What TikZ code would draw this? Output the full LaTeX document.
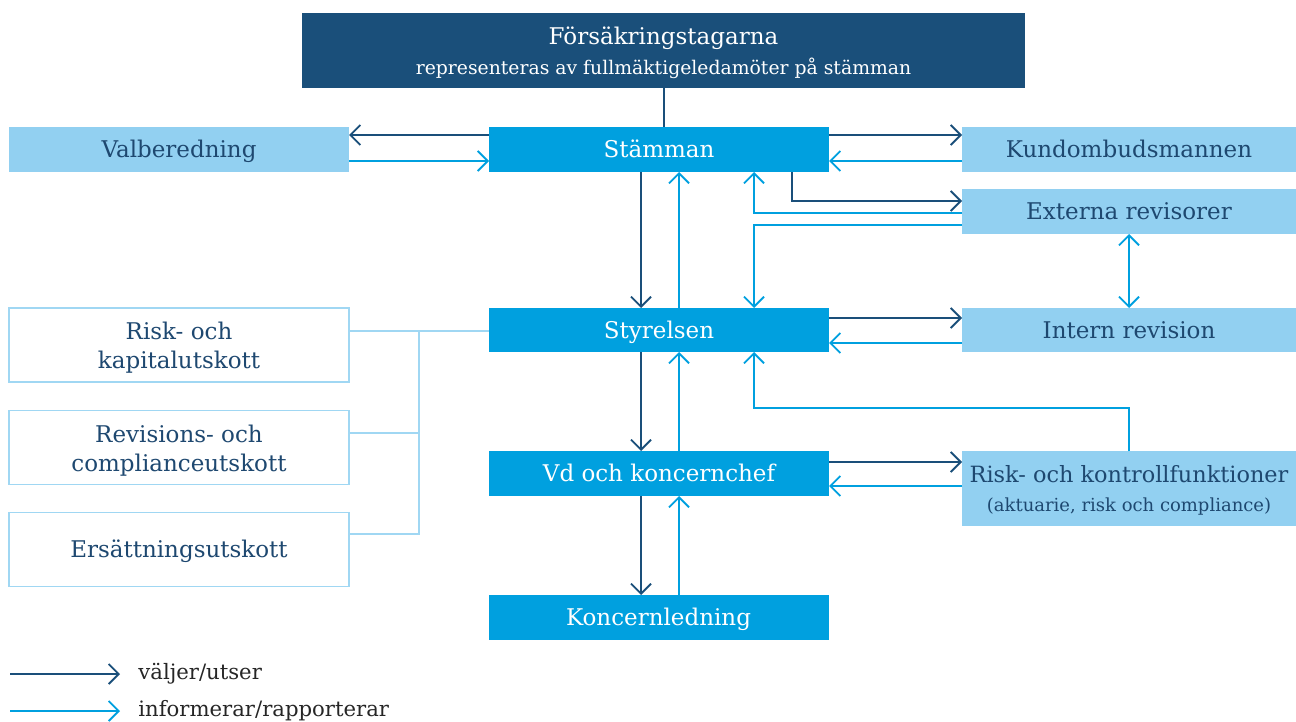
\documentclass[tikz,border=0pt]{standalone}
\usepackage{fontspec}
\setmainfont{DejaVu Serif}
\usetikzlibrary{arrows.meta}
\definecolor{navy}{RGB}{26,79,122}
\definecolor{mid}{RGB}{0,160,223}
\definecolor{pale}{RGB}{146,208,241}
\definecolor{paleline}{RGB}{160,215,243}
\definecolor{txt}{RGB}{30,72,112}
\tikzset{
  >={Straight Barb[length=5pt,width=10pt,line width=0.9pt]},
  base/.style={rectangle, inner sep=0pt, outer sep=0pt, align=center, font=\fontsize{11.5}{14.5}\selectfont},
  one/.style={text height=8.4pt, text depth=0pt},
  topbox/.style={base, fill=navy, text=white, minimum width=361.5pt, minimum height=37.5pt},
  midbox/.style={base, one, fill=mid, text=white, minimum width=170pt, minimum height=22.5pt},
  palebox/.style={base, one, fill=pale, text=txt, minimum width=167pt, minimum height=22.5pt},
  leftbox/.style={base, one, fill=pale, text=txt, minimum width=170pt, minimum height=22.5pt},
  combox/.style={base, draw=paleline, line width=0.8pt, fill=white, text=txt, minimum width=170pt, minimum height=37pt},
  dk/.style={navy, line width=0.9pt, ->},
  lt/.style={mid, line width=0.9pt, ->},
  ltboth/.style={mid, line width=0.9pt, <->},
  tree/.style={paleline, line width=1.2pt},
}
\begin{document}
\begin{tikzpicture}[x=0.5pt,y=-0.5pt]
\useasboundingbox (0,0) rectangle (1296,722);
% boxes
\node[topbox] (top) at (663.5,50.5) {\rule{0pt}{11pt}\fontsize{11.5}{14}\selectfont Försäkringstagarna\\[0.5pt]\fontsize{9.4}{11}\selectfont representeras av fullmäktigeledamöter på stämman};
\node[midbox] (stam) at (659,149.5) {Stämman};
\node[leftbox] (valb) at (179,149.5) {Valberedning};
\node[palebox] (kund) at (1129,149.5) {Kundombudsmannen};
\node[palebox] (ext) at (1129,211.5) {Externa revisorer};
\node[midbox, minimum height=22pt] (styr) at (659,330) {Styrelsen};
\node[palebox, minimum height=22pt] (intern) at (1129,330) {Intern revision};
\node[midbox] (vd) at (659,473.5) {Vd och koncernchef};
\node[base, fill=pale, text=txt, minimum width=167pt, minimum height=37.5pt] (risk) at (1129,488.5) {{\rule{0pt}{10.5pt}\fontsize{11.2}{14}\selectfont Risk- och kontrollfunktioner}\\{\fontsize{9}{11}\selectfont (aktuarie, risk och compliance)}};
\node[midbox] (konc) at (658.5,617.5) {Koncernledning};
\node[combox] (rk) at (179,345) {\rule{0pt}{11.4pt}Risk- och\\kapitalutskott};
\node[combox] (rc) at (179,447.5) {\rule{0pt}{11.4pt}Revisions- och\\complianceutskott};
\node[combox, one] (ers) at (179,549.5) {Ersättningsutskott};
% tree of committees
\coordinate (j1) at (419,331);
\coordinate (j3) at (419,534);
\draw[tree] (rk.east |- j1) -- (styr.west |- j1);
\draw[tree] (rc.east |- 0,433) -- (j1 |- 0,433);
\draw[tree] (ers.east |- j3) -- (j3) -- (j1);
% top to stamman
\draw[navy, line width=1pt] (top.south) -- (top.south |- stam.north);
% stamman - valberedning
\draw[dk] (stam.west |- 0,135) -- (valb.east |- 0,135);
\draw[lt] (valb.east |- 0,161) -- (stam.west |- 0,161);
% stamman - kundombudsmannen
\draw[dk] (stam.east |- 0,135) -- (kund.west |- 0,135);
\draw[lt] (kund.west |- 0,161) -- (stam.east |- 0,161);
% stamman - externa
\draw[dk] (stam.south -| 792,0) |- (ext.west |- 0,201);
\draw[lt] (ext.west |- 0,213) -| (stam.south -| 754,0);
\draw[lt] (ext.west |- 0,225) -| (styr.north -| 754,0);
% externa - intern
\draw[ltboth] (ext.south) -- (intern.north);
% stamman - styrelsen
\draw[dk] (stam.south -| 641,0) -- (styr.north -| 641,0);
\draw[lt] (styr.north -| 679,0) -- (stam.south -| 679,0);
% styrelsen - intern
\draw[dk] (styr.east |- 0,318) -- (intern.west |- 0,318);
\draw[lt] (intern.west |- 0,343) -- (styr.east |- 0,343);
% styrelsen - vd
\draw[dk] (styr.south -| 641,0) -- (vd.north -| 641,0);
\draw[lt] (vd.north -| 679,0) -- (styr.south -| 679,0);
% risk - styrelsen
\draw[lt] (risk.north) |- (754,408) -- (styr.south -| 754,0);
% vd - risk
\draw[dk] (vd.east |- 0,462) -- (risk.west |- 0,462);
\draw[lt] (risk.west |- 0,486) -- (vd.east |- 0,486);
% vd - koncernledning
\draw[dk] (vd.south -| 641,0) -- (konc.north -| 641,0);
\draw[lt] (konc.north -| 679,0) -- (vd.south -| 679,0);
% legend
\coordinate (l1a) at (10,674); \coordinate (l1b) at (120,674);
\coordinate (l2a) at (10,711); \coordinate (l2b) at (120,711);
\draw[dk] (l1a) -- (l1b);
\draw[lt] (l2a) -- (l2b);
\node[anchor=west, inner sep=0pt, font=\fontsize{10.6}{12}\selectfont, text=black!85] (lg1) at (138,674) {väljer/utser};
\node[anchor=west, inner sep=0pt, font=\fontsize{10.6}{12}\selectfont, text=black!85] (lg2) at (138,711) {informerar/rapporterar};
\end{tikzpicture}
\end{document}
